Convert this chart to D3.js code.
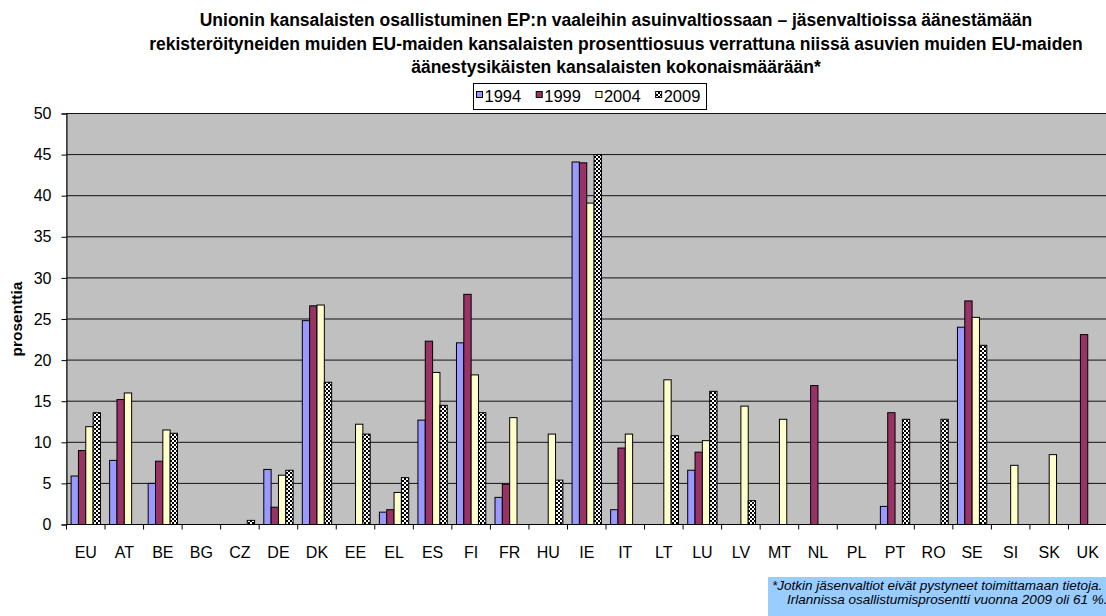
<!DOCTYPE html>
<html>
<head>
<meta charset="utf-8">
<script src="https://cdn.jsdelivr.net/npm/d3@7"></script>
<style>
  body { margin: 0; background: #fff; }
  svg { display: block; font-family: Arial, 'Liberation Sans', sans-serif; }
</style>
</head>
<body>
<div id="chart"></div>
<script>
const WIDTH = 1106;
const HEIGHT = 616;

const categories = ['EU','AT','BE','BG','CZ','DE','DK','EE','EL','ES','FI','FR','HU','IE','IT','LT','LU','LV','MT','NL','PL','PT','RO','SE','SI','SK','UK'];
const years = ['1994', '1999', '2004', '2009'];
const v1994 = [5.9, 7.8, 5.0, null, null, 6.7, 24.8, null, 1.5, 12.7, 22.1, 3.3, null, 44.1, 1.8, null, 6.6, null, null, null, null, 2.2, null, 24.0, null, null, null];
const v1999 = [9.0, 15.2, 7.7, null, null, 2.1, 26.6, null, 1.8, 22.3, 28.0, 4.9, null, 44.0, 9.3, null, 8.8, null, null, 16.9, null, 13.6, null, 27.2, null, null, 23.1];
const v2004 = [11.9, 16.0, 11.5, null, null, 6.0, 26.7, 12.2, 3.9, 18.5, 18.2, 13.0, 11.0, 39.1, 11.0, 17.6, 10.2, 14.4, 12.8, null, null, null, null, 25.2, 7.2, 8.5, null];
const v2009 = [13.6, null, 11.1, null, 0.5, 6.6, 17.3, 11.0, 5.7, 14.5, 13.6, null, 5.4, 45.0, null, 10.8, 16.2, 2.9, null, null, null, 12.8, 12.8, 21.8, null, null, null];
const yTicks = [0, 5, 10, 15, 20, 25, 30, 35, 40, 45, 50];

const titleLines = [
    'Unionin kansalaisten osallistuminen EP:n vaaleihin asuinvaltiossaan  – jäsenvaltioissa äänestämään',
    'rekisteröityneiden muiden EU-maiden kansalaisten prosenttiosuus verrattuna niissä asuvien muiden EU-maiden',
    'äänestysikäisten kansalaisten kokonaismäärään*'
];
const noteLines = [
    '*Jotkin jäsenvaltiot eivät pystyneet toimittamaan tietoja.',
    'Irlannissa osallistumisprosentti vuonna 2009 oli 61 %.'
];

const series = [v1994, v1999, v2004, v2009];
const fills = ['#9999FF', '#993366', '#FFFFCC', 'url(#checker)'];

const PLOT = {left: 66.5, right: 1107, top: 113.5, bottom: 524.5};

let svg = d3.select('#chart').append('svg')
    .attr('width', WIDTH)
    .attr('height', HEIGHT);

// checker pattern for 2009
let pat = svg.append('defs').append('pattern')
    .attr('id', 'checker')
    .attr('patternUnits', 'userSpaceOnUse')
    .attr('width', 4)
    .attr('height', 4);
pat.append('rect').attr('width', 4).attr('height', 4).attr('fill', '#000');
pat.append('rect').attr('width', 2).attr('height', 2).attr('fill', '#fff');
pat.append('rect').attr('x', 2).attr('y', 2).attr('width', 2).attr('height', 2).attr('fill', '#fff');

let x = d3.scaleBand().domain(categories).range([PLOT.left, PLOT.right]).padding(0);
let xs = d3.scaleBand().domain(years).range([4.6, x.bandwidth() - 4.6]).padding(0);
let y = d3.scaleLinear().domain([0, 50]).range([PLOT.bottom, PLOT.top]);

// plot background
svg.append('rect')
    .attr('x', PLOT.left)
    .attr('y', PLOT.top)
    .attr('width', PLOT.right - PLOT.left)
    .attr('height', PLOT.bottom - PLOT.top)
    .attr('fill', '#C0C0C0')
    .attr('stroke', '#808080')
    .attr('stroke-width', 1);

// gridlines
svg.append('g')
    .selectAll('line')
    .data(yTicks.slice(1))
    .join('line')
    .attr('x1', PLOT.left)
    .attr('x2', PLOT.right)
    .attr('y1', d => y(d))
    .attr('y2', d => y(d))
    .attr('stroke', '#111')
    .attr('stroke-width', 1);

// bars
series.forEach((vals, s) => {
    svg.append('g')
        .selectAll('rect')
        .data(categories.map((c, i) => ({c, v: vals[i]})).filter(d => d.v !== null))
        .join('rect')
        .attr('x', d => x(d.c) + xs(years[s]))
        .attr('y', d => y(d.v))
        .attr('width', xs.bandwidth())
        .attr('height', d => y(0) - y(d.v))
        .attr('fill', fills[s])
        .attr('stroke', '#000')
        .attr('stroke-width', 1);
});

// y axis
let yAxis = svg.append('g')
    .attr('transform', 'translate(' + PLOT.left + ',0)')
    .call(d3.axisLeft(y).tickValues(yTicks).tickSize(5).tickPadding(10));
yAxis.select('.domain').attr('stroke', '#000');
yAxis.selectAll('line').attr('stroke', '#000');
yAxis.selectAll('text').attr('font-size', 16).attr('fill', '#000')
    .attr('font-family', 'Arial, Liberation Sans, sans-serif');

// x axis: ticks on category boundaries
let xg = svg.append('g');
xg.append('line')
    .attr('x1', PLOT.left).attr('x2', PLOT.right)
    .attr('y1', PLOT.bottom).attr('y2', PLOT.bottom)
    .attr('stroke', '#000');
xg.selectAll('.tk')
    .data(categories.concat(['end']))
    .join('line')
    .attr('class', 'tk')
    .attr('x1', (d, i) => PLOT.left + i * x.step())
    .attr('x2', (d, i) => PLOT.left + i * x.step())
    .attr('y1', PLOT.bottom)
    .attr('y2', PLOT.bottom + 5)
    .attr('stroke', '#000');
xg.selectAll('text')
    .data(categories)
    .join('text')
    .attr('x', d => x(d) + x.bandwidth() / 2)
    .attr('y', 558)
    .attr('text-anchor', 'middle')
    .attr('font-size', 16)
    .text(d => d);

// y axis title
svg.append('text')
    .attr('transform', 'translate(22,' + ((PLOT.top + PLOT.bottom) / 2) + ') rotate(-90)')
    .attr('text-anchor', 'middle')
    .attr('font-size', 15.5)
    .attr('font-weight', 'bold')
    .text('prosenttia');

// title
svg.append('g')
    .selectAll('text')
    .data(titleLines)
    .join('text')
    .attr('x', 616)
    .attr('y', (d, i) => 26 + i * 23.5)
    .attr('text-anchor', 'middle')
    .attr('font-size', 17.5)
    .attr('font-weight', 'bold')
    .text(d => d);

// legend
let lg = svg.append('g');
lg.append('rect')
    .attr('x', 473.5).attr('y', 83.5)
    .attr('width', 233).attr('height', 26)
    .attr('fill', '#fff')
    .attr('stroke', '#000');
let lx = 476.5;
years.forEach((yr, s) => {
    lg.append('rect')
        .attr('x', lx).attr('y', 91.5)
        .attr('width', 6).attr('height', 6)
        .attr('fill', fills[s])
        .attr('stroke', '#000');
    let t = lg.append('text')
        .attr('x', lx + 8).attr('y', 101.5)
        .attr('font-size', 16.5)
        .text(yr);
    lx += 8 + t.node().getComputedTextLength() + 15;
});

// footnote (cut off at the right edge, as in the source picture)
svg.append('rect')
    .attr('x', 768).attr('y', 577)
    .attr('width', 400).attr('height', 50)
    .attr('fill', '#99CCFF');
svg.append('g')
    .selectAll('text')
    .data(noteLines)
    .join('text')
    .attr('x', (d, i) => i ? 787 : 772)
    .attr('y', (d, i) => 590 + i * 14)
    .attr('font-size', 13.5)
    .attr('font-style', 'italic')
    .text(d => d);
</script>
</body>
</html>
